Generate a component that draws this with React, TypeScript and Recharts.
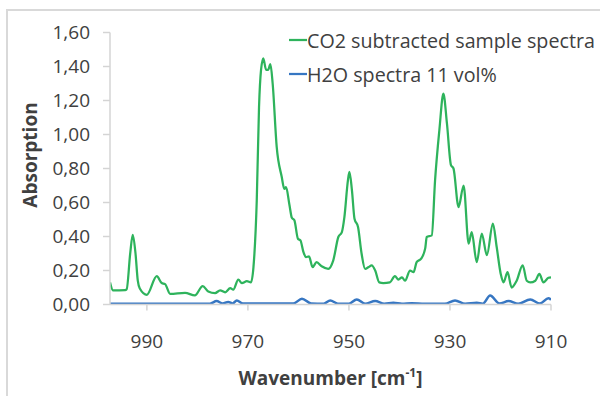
import React from 'react';
import { LineChart, Line, XAxis, YAxis, Legend } from 'recharts';

const sampleWavenumbers = [
  997.3, 996.7, 994.3, 994.0, 993.3, 992.8, 992.25, 991.8, 991.4, 990.0, 988.05, 987.06, 986.4, 985.4,
  982.45, 980.5, 978.95, 977.85, 976.5, 975.5, 974.5, 973.5, 972.9, 971.9, 971.2, 970.2, 969.4, 968.9,
  968.25, 967.8, 967.4, 966.95, 966.4, 966.0, 965.55, 965.1, 964.3, 963.3, 962.8, 962.45, 961.8, 961.3,
  960.8, 960.1, 959.6, 959.0, 958.5, 957.9, 957.2, 956.4, 955.4, 954.1, 953.1, 952.1, 951.4, 950.9,
  950.2, 949.9, 949.4, 948.9, 948.2, 947.5, 946.8, 946.1, 945.5, 944.8, 944.0, 943.2, 941.9, 940.9,
  940.2, 939.5, 938.9, 937.9, 937.2, 936.6, 935.7, 934.9, 934.6, 933.6, 932.95, 932.1, 931.3, 930.6,
  929.8, 929.3, 928.3, 927.3, 926.3, 925.7, 924.7, 923.7, 922.7, 921.5, 920.75, 919.95, 919.4, 918.6,
  917.8, 916.8, 915.6, 914.8, 914.1, 913.1, 912.3, 911.5, 910.5, 910.0,
];
const sampleValues = [
  0.13, 0.083, 0.085, 0.09, 0.3, 0.41, 0.3, 0.14, 0.094, 0.057, 0.167, 0.126, 0.12, 0.063,
  0.069, 0.053, 0.108, 0.077, 0.067, 0.083, 0.072, 0.096, 0.087, 0.146, 0.126, 0.137, 0.13, 0.22,
  0.61, 1.16, 1.38, 1.448, 1.38, 1.38, 1.414, 1.3, 0.927, 0.75, 0.68, 0.69, 0.59, 0.51,
  0.495, 0.387, 0.377, 0.308, 0.279, 0.283, 0.22, 0.249, 0.225, 0.21, 0.26, 0.397, 0.426, 0.514,
  0.73, 0.78, 0.67, 0.505, 0.456, 0.3, 0.21, 0.22, 0.23, 0.2, 0.13, 0.126, 0.13, 0.167,
  0.147, 0.16, 0.14, 0.2, 0.19, 0.249, 0.27, 0.33, 0.397, 0.407, 0.73, 1.025, 1.24, 1.065,
  0.82, 0.8, 0.573, 0.7, 0.358, 0.426, 0.249, 0.417, 0.29, 0.476, 0.338, 0.18, 0.13, 0.19,
  0.1, 0.14, 0.23, 0.14, 0.13, 0.14, 0.18, 0.13, 0.157, 0.16,
];

const waterWavenumbers = [
  997.3, 985.0, 977.5, 976.2, 975.0, 973.9, 973.0, 972.2, 971.0, 961.0, 959.3, 957.5, 955.0, 953.7,
  952.2, 950.0, 948.45, 946.8, 944.8, 943.0, 941.2, 939.5, 937.6, 935.0, 931.0, 929.0, 927.0, 924.7,
  923.5, 922.05, 920.2, 918.4, 916.5, 914.1, 912.2, 910.5, 910.0,
];
const waterValues = [
  0.005, 0.004, 0.005, 0.02, 0.006, 0.015, 0.006, 0.024, 0.006, 0.006, 0.034, 0.006, 0.005, 0.024,
  0.005, 0.005, 0.03, 0.005, 0.02, 0.005, 0.01, 0.004, 0.008, 0.004, 0.004, 0.024, 0.004, 0.01,
  0.005, 0.053, 0.006, 0.02, 0.005, 0.03, 0.006, 0.037, 0.028,
];

const xTicks = [990, 970, 950, 930, 910];
const yTicks = [0, 0.2, 0.4, 0.6, 0.8, 1.0, 1.2, 1.4, 1.6];
const seriesNames = ['CO2 subtracted sample spectra', 'H2O spectra 11 vol%'];
const seriesColors = ['#2eb35c', '#3676c2'];

const sampleData = sampleWavenumbers.map((w, i) => ({ w, v: sampleValues[i] }));
const waterData = waterWavenumbers.map((w, i) => ({ w, v: waterValues[i] }));

const FONT = '"Open Sans", "Noto Sans", sans-serif';
const TEXT = '#404040';
const AXIS = '#d4d4d4';

const LegendContent = () => (
  <div style={{ fontFamily: FONT, fontSize: 19.7, color: TEXT }}>
    {seriesNames.map((name, i) => (
      <div key={name} style={{ display: 'flex', alignItems: 'center', height: 34, whiteSpace: 'nowrap' }}>
        <svg width={18} height={4} style={{ display: 'block' }}>
          <line x1={0} y1={2} x2={18} y2={2} stroke={seriesColors[i]} strokeWidth={2.25} />
        </svg>
        <span>{name}</span>
      </div>
    ))}
  </div>
);

const XLabel = (props: any) => {
  const vb = props.viewBox || { x: 110, y: 304, width: 441, height: 92 };
  const cx = vb.x + vb.width / 2;
  return (
    <text x={cx} y={vb.y + 80} textAnchor="middle" fontFamily={FONT} fontSize={19} fontWeight="bold" fill={TEXT}>
      Wavenumber [cm
      <tspan fontSize={12} dy={-8}>-1</tspan>
      <tspan dy={8}>]</tspan>
    </text>
  );
};

const YLabel = (props: any) => {
  const vb = props.viewBox || { x: 0, y: 32, width: 110, height: 272 };
  const cx = vb.x + 30;
  const cy = 155;
  return (
    <text
      x={cx}
      y={cy}
      transform={`rotate(-90 ${cx} ${cy})`}
      textAnchor="middle"
      dominantBaseline="central"
      fontFamily={FONT}
      fontSize={19}
      fontWeight="bold"
      fill={TEXT}
    >
      Absorption
    </text>
  );
};

export default function App() {
  return (
    <div style={{ position: 'absolute', left: 0, top: 0, width: 600, height: 396, overflow: 'hidden', background: '#fff' }}>
      <div
        style={{
          position: 'absolute',
          left: 6,
          top: 9,
          width: 640,
          height: 420,
          border: '2px solid #d9d9d9',
          boxSizing: 'border-box',
        }}
      />
      <div style={{ position: 'absolute', left: 0, top: 0 }}>
        <LineChart width={600} height={396} margin={{ top: 32.5, right: 49, bottom: 0, left: 0 }}>
          <XAxis
            dataKey="w"
            type="number"
            domain={[910, 997.3]}
            reversed
            allowDataOverflow
            ticks={xTicks}
            interval={0}
            height={91.5}
            tickSize={6}
            tickMargin={24}
            stroke={AXIS}
            strokeWidth={1.5}
            tick={{ fill: TEXT, fontSize: 19, fontFamily: FONT }}
            label={<XLabel />}
          />
          <YAxis
            type="number"
            domain={[0, 1.6]}
            ticks={yTicks}
            interval={0}
            width={110}
            tickSize={7}
            tickMargin={13}
            stroke={AXIS}
            strokeWidth={1.5}
            tickFormatter={(v: number) => v.toFixed(2).replace('.', ',')}
            tick={{ fill: TEXT, fontSize: 19, fontFamily: FONT }}
            label={<YLabel />}
          />
          <Legend
            layout="horizontal"
            verticalAlign="middle"
            align="center"
            content={<LegendContent />}
            wrapperStyle={{ left: 289, top: 23, width: 320, height: 70 }}
          />
          <Line
            data={sampleData}
            dataKey="v"
            name={seriesNames[0]}
            type="monotone"
            stroke={seriesColors[0]}
            strokeWidth={2.25}
            dot={false}
            isAnimationActive={false}
          />
          <Line
            data={waterData}
            dataKey="v"
            name={seriesNames[1]}
            type="monotone"
            stroke={seriesColors[1]}
            strokeWidth={2.5}
            dot={false}
            isAnimationActive={false}
          />
        </LineChart>
      </div>
    </div>
  );
}
